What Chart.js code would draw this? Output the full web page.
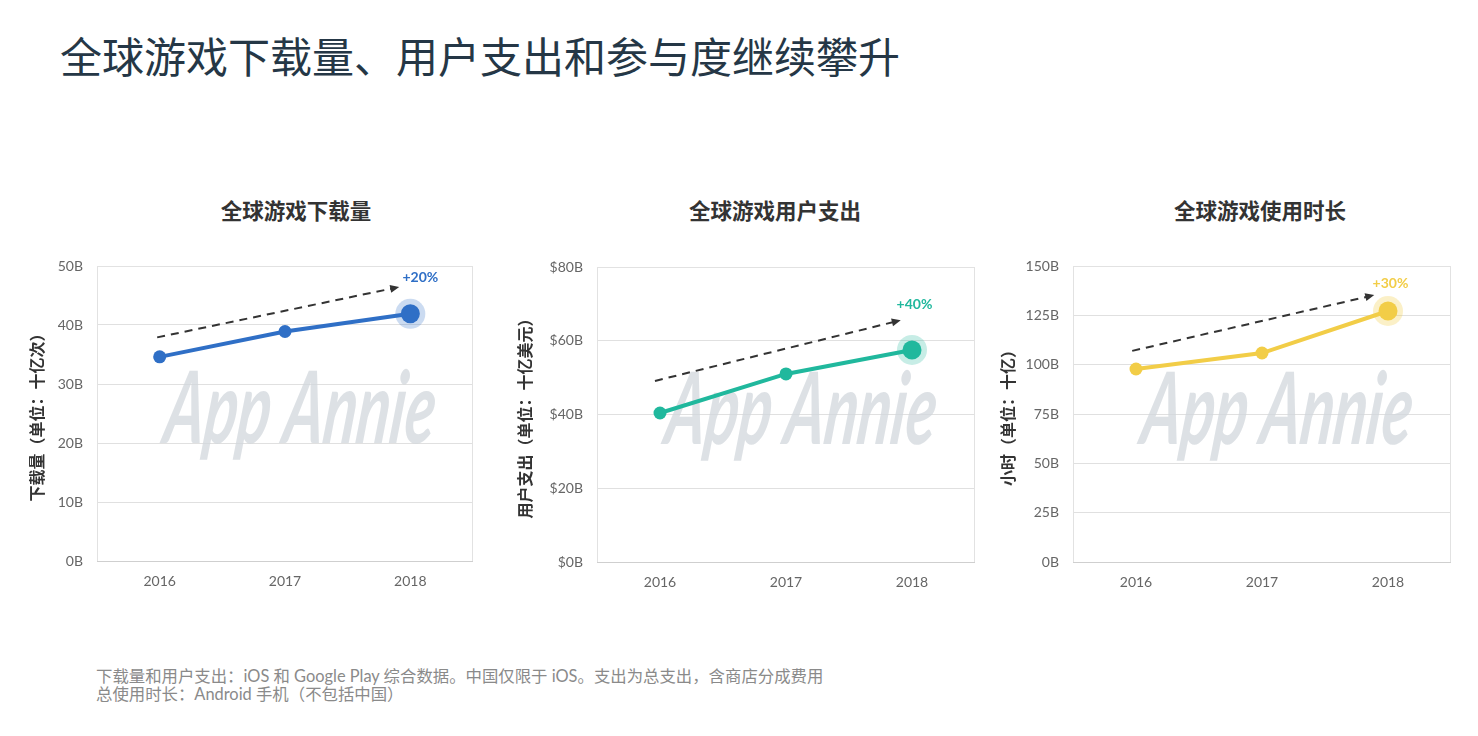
<!DOCTYPE html>
<html><head><meta charset="utf-8">
<script src="https://cdn.jsdelivr.net/npm/chart.js@4.4.0/dist/chart.umd.min.js"></script>
<style>
body{margin:0;background:#fff;width:1478px;height:736px;position:relative;overflow:hidden;font-family:"Noto Sans CJK SC",sans-serif;}
#title{position:absolute;left:60px;top:25px;font-size:42px;color:#253746;line-height:60px;white-space:nowrap;}
.ct{position:absolute;top:196px;font-size:21.5px;font-weight:bold;color:#333;text-align:center;width:400px;line-height:28px;}
.box{position:absolute;top:250px;}
#note{position:absolute;left:96px;top:667px;font-size:16.4px;color:#8a8a8a;line-height:18px;font-family:Lato,"Noto Sans CJK SC",sans-serif;white-space:nowrap;}
</style></head>
<body>
<div id="title">全球游戏下载量、用户支出和参与度继续攀升</div>
<div class="ct" style="left:96px">全球游戏下载量</div>
<div class="ct" style="left:575px">全球游戏用户支出</div>
<div class="ct" style="left:1060px">全球游戏使用时长</div>
<div class="box" style="left:20px"><canvas id="c1" width="465" height="360"></canvas></div>
<div class="box" style="left:505px"><canvas id="c2" width="482" height="360"></canvas></div>
<div class="box" style="left:985px"><canvas id="c3" width="478" height="360"></canvas></div>
<div id="note">下载量和用户支出：iOS 和 Google Play 综合数据。中国仅限于 iOS。支出为总支出，含商店分成费用<br>总使用时长：Android 手机（不包括中国）</div>
<script>
// ---- data ----
const years = [2016, 2017, 2018];
const downloads = [34.6, 38.9, 41.9];      // billions
const spend = [40.4, 51.0, 57.5];          // $ billions
const hours = [97.8, 105.9, 127.2];        // billions of hours
const growthLabels = ['+20%', '+40%', '+30%'];
const trendDownloads = [[2015.98, 37.9], [2017.88, 46.3]];
const trendSpend = [[2015.96, 49.1], [2017.88, 65.3]];
const trendHours = [[2015.97, 107.0], [2017.86, 134.8]];
const growthAtDownloads = [2018.08, 48.1];
const growthAtSpend = [2018.02, 69.9];
const growthAtHours = [2018.02, 140.9];
const yTitles = ['下载量（单位：十亿次）', '用户支出（单位：十亿美元）', '小时（单位：十亿）'];
const yMaxes = [50, 80, 150];
const ySteps = [10, 20, 25];
const tickPrefixes = ['', '$', ''];

const decor = {
  id: 'decor',
  beforeDatasetsDraw(chart, args, o) {
    const {ctx, chartArea: a} = chart;
    ctx.save();
    ctx.strokeStyle = '#e2e2e2'; ctx.lineWidth = 1;
    ctx.strokeRect(a.left + 0.5, a.top + 0.5, a.right - a.left - 1, a.bottom - a.top);
    ctx.strokeStyle = '#cfcfcf';
    ctx.beginPath(); ctx.moveTo(a.left, a.bottom + 0.5); ctx.lineTo(a.right, a.bottom + 0.5); ctx.stroke();
    ctx.font = 'italic 700 100px Lato';
    const w = ctx.measureText('App Annie').width;
    const cx = (a.left + a.right) / 2 + 12;
    const base = a.top + (a.bottom - a.top) * 0.6;
    ctx.translate(cx, base);
    ctx.transform(270 / w, 0, -0.12, 1, 0, 0);
    ctx.fillStyle = 'rgba(208,213,219,0.72)';
    ctx.textAlign = 'center'; ctx.textBaseline = 'alphabetic';
    ctx.fillText('App Annie', 0, 0);
    ctx.restore();
    const meta = chart.getDatasetMeta(0);
    const p = meta.data[meta.data.length - 1];
    ctx.save();
    ctx.fillStyle = o.halo;
    ctx.beginPath(); ctx.arc(p.x, p.y, 15, 0, Math.PI * 2); ctx.fill();
    ctx.restore();
  },
  afterDatasetsDraw(chart, args, o) {
    const {ctx, scales} = chart;
    const m = chart.getDatasetMeta(1);
    const p0 = m.data[0], p1 = m.data[1];
    const ang = Math.atan2(p1.y - p0.y, p1.x - p0.x);
    ctx.save();
    ctx.fillStyle = '#333';
    ctx.translate(p1.x, p1.y); ctx.rotate(ang);
    ctx.beginPath(); ctx.moveTo(4, 0); ctx.lineTo(-5, -4); ctx.lineTo(-5, 4); ctx.closePath(); ctx.fill();
    ctx.restore();
    ctx.save();
    ctx.font = 'bold 14px Lato';
    ctx.fillStyle = o.color;
    ctx.textAlign = 'center'; ctx.textBaseline = 'middle';
    ctx.fillText(o.label, scales.x.getPixelForValue(o.at[0]), scales.y.getPixelForValue(o.at[1]));
    ctx.restore();
  }
};

function makeChart(id, idx, values, trend, at, color, halo, axisW, titlePad, top, xH) {
  return new Chart(document.getElementById(id), {
    type: 'line',
    data: {
      datasets: [
        {
          data: years.map((y, i) => ({x: y, y: values[i]})),
          borderColor: color, backgroundColor: color, borderWidth: 4,
          pointRadius: c => c.dataIndex === years.length - 1 ? 9.5 : 6.5,
          pointBorderWidth: 0, pointBackgroundColor: color, tension: 0, order: 1
        },
        {
          data: trend.map(t => ({x: t[0], y: t[1]})),
          borderColor: '#333', borderWidth: 2, borderDash: [8, 6], pointRadius: 0, tension: 0, order: 2
        }
      ]
    },
    options: {
      responsive: false, animation: false, devicePixelRatio: 1,
      layout: {padding: {left: 0, top: top, right: 12, bottom: 0}},
      plugins: {legend: {display: false}, tooltip: {enabled: false},
        decor: {halo: halo, color: color, label: growthLabels[idx], at: at}},
      scales: {
        x: {
          type: 'linear', min: 2015.5, max: 2018.5,
          afterBuildTicks: s => { s.ticks = years.map(v => ({value: v})); },
          afterFit: s => { s.height = xH; },
          grid: {display: false, drawTicks: false}, border: {display: false},
          ticks: {callback: v => String(v), padding: 12, color: '#666', font: {family: 'Lato', size: 14}}
        },
        y: {
          min: 0, max: yMaxes[idx],
          afterFit: s => { s.width = axisW; },
          grid: {color: '#e0e0e0', drawTicks: true, tickLength: 14, tickColor: 'rgba(0,0,0,0)'},
          border: {display: false},
          ticks: {stepSize: ySteps[idx], padding: 0, color: '#666', font: {family: 'Lato', size: 14},
            callback: v => tickPrefixes[idx] + v + 'B'},
          title: {display: true, text: yTitles[idx], color: '#333', padding: {top: titlePad, bottom: 0},
            font: {family: '"Noto Sans CJK SC"', size: 16, weight: 'bold'}}
        }
      }
    },
    plugins: [decor]
  });
}
makeChart('c1', 0, downloads, trendDownloads, growthAtDownloads, '#2f6fc6', 'rgba(47,111,198,0.25)', 77, 7.4, 16, 49);
makeChart('c2', 1, spend, trendSpend, growthAtSpend, '#20b89d', 'rgba(32,184,157,0.25)', 92, 10.4, 17, 48);
makeChart('c3', 2, hours, trendHours, growthAtHours, '#f2cd47', 'rgba(242,205,71,0.3)', 88, 13.4, 16, 48);
</script>
</body></html>
